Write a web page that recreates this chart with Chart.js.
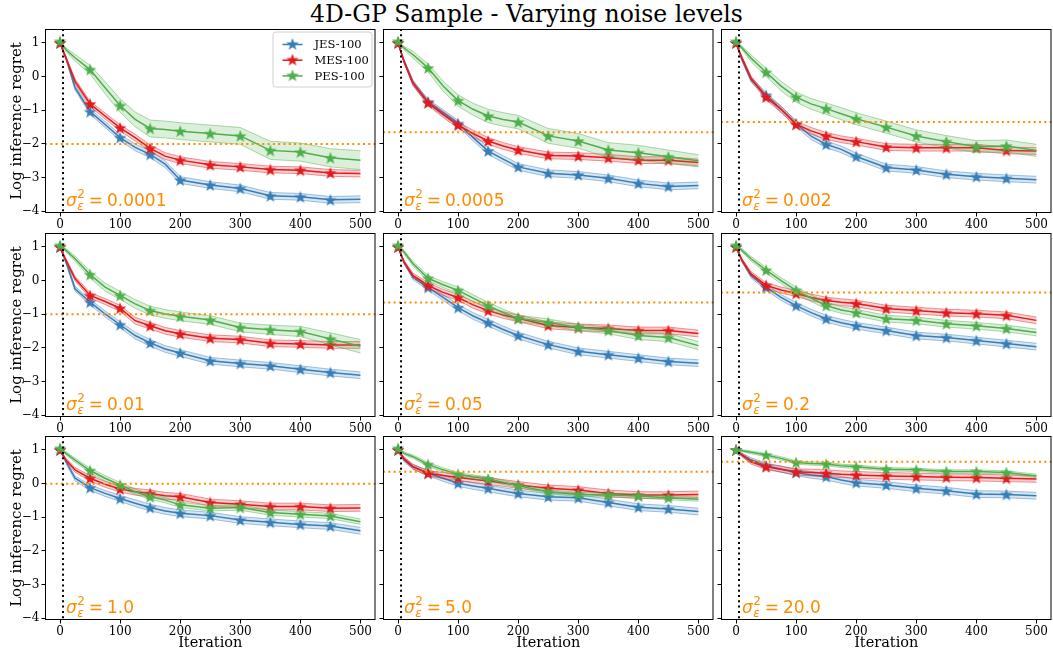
<!DOCTYPE html>
<html>
<head>
<meta charset="utf-8">
<script src="https://cdn.jsdelivr.net/npm/chart.js@4.4.1/dist/chart.umd.min.js"></script>
<style>
  body { margin: 0; background: #fff; }
  #fig { position: relative; width: 1053px; height: 653px; overflow: hidden; background: #fff; }
  #fig canvas { position: absolute; }
  #title { position: absolute; left: 0; top: 0px; width: 1053px; text-align: center;
           font: 23.5px "DejaVu Serif"; color: #000; }
</style>
</head>
<body>
<div id="fig"><div id="title">4D-GP Sample - Varying noise levels</div></div>
<script>
var iters = [0, 10, 25, 50, 75, 100, 125, 150, 175, 200, 250, 300, 350, 400, 450, 500];
var xTicks = [0, 100, 200, 300, 400, 500];
var yTicks = [-4, -3, -2, -1, 0, 1];
var noiseLevels = ["0.0001", "0.0005", "0.002", "0.01", "0.05", "0.2", "1.0", "5.0", "20.0"];
var methods = ["JES-100", "MES-100", "PES-100"];
var initIter = 5;

// log inference regret, one row per noise level
var jes = [
  [1.0, 0.55, -0.33, -1.04, -1.42, -1.81, -2.10, -2.31, -2.60, -3.07, -3.22, -3.32, -3.54, -3.57, -3.66, -3.64],
  [1.0, 0.46, -0.18, -0.75, -1.07, -1.39, -1.81, -2.21, -2.45, -2.68, -2.87, -2.92, -3.02, -3.17, -3.26, -3.23],
  [1.0, 0.50, -0.09, -0.55, -0.97, -1.40, -1.77, -2.01, -2.16, -2.37, -2.70, -2.77, -2.90, -2.97, -3.02, -3.06],
  [1.0, 0.55, -0.24, -0.64, -0.99, -1.31, -1.63, -1.85, -2.03, -2.15, -2.38, -2.46, -2.53, -2.63, -2.73, -2.81],
  [1.0, 0.55, 0.10, -0.20, -0.50, -0.80, -1.05, -1.25, -1.45, -1.63, -1.90, -2.10, -2.20, -2.30, -2.40, -2.45],
  [1.0, 0.60, 0.15, -0.20, -0.50, -0.74, -0.95, -1.13, -1.25, -1.34, -1.48, -1.63, -1.69, -1.78, -1.87, -1.96],
  [1.0, 0.65, 0.16, -0.12, -0.29, -0.44, -0.58, -0.71, -0.81, -0.88, -0.95, -1.08, -1.15, -1.21, -1.26, -1.40],
  [1.0, 0.70, 0.50, 0.31, 0.16, 0.01, -0.07, -0.14, -0.22, -0.29, -0.39, -0.42, -0.56, -0.70, -0.75, -0.83],
  [1.0, 0.85, 0.70, 0.53, 0.43, 0.33, 0.26, 0.21, 0.11, 0.03, -0.04, -0.14, -0.21, -0.31, -0.32, -0.36]
];
var mes = [
  [1.0, 0.55, -0.14, -0.81, -1.17, -1.52, -1.81, -2.13, -2.36, -2.48, -2.62, -2.68, -2.76, -2.78, -2.86, -2.88],
  [1.0, 0.45, -0.20, -0.78, -1.12, -1.44, -1.69, -1.91, -2.06, -2.18, -2.34, -2.36, -2.41, -2.48, -2.48, -2.55],
  [1.0, 0.55, -0.05, -0.61, -0.97, -1.42, -1.61, -1.76, -1.86, -1.93, -2.09, -2.11, -2.11, -2.11, -2.19, -2.21],
  [1.0, 0.60, 0.06, -0.44, -0.62, -0.82, -1.19, -1.34, -1.49, -1.58, -1.71, -1.75, -1.86, -1.88, -1.91, -1.91],
  [1.0, 0.55, 0.15, -0.14, -0.35, -0.50, -0.72, -0.89, -1.02, -1.12, -1.33, -1.39, -1.42, -1.48, -1.48, -1.57],
  [1.0, 0.60, 0.20, -0.14, -0.28, -0.38, -0.50, -0.59, -0.64, -0.68, -0.83, -0.89, -0.95, -0.98, -1.03, -1.18],
  [1.0, 0.70, 0.41, 0.16, -0.02, -0.16, -0.24, -0.29, -0.36, -0.39, -0.56, -0.61, -0.68, -0.68, -0.73, -0.72],
  [1.0, 0.75, 0.50, 0.31, 0.24, 0.18, 0.13, 0.08, 0.02, -0.04, -0.14, -0.19, -0.29, -0.34, -0.34, -0.32],
  [1.0, 0.85, 0.65, 0.50, 0.43, 0.35, 0.33, 0.31, 0.28, 0.26, 0.23, 0.21, 0.19, 0.18, 0.16, 0.14]
];
var pes = [
  [1.05, 0.80, 0.56, 0.21, -0.33, -0.86, -1.27, -1.54, -1.57, -1.62, -1.69, -1.76, -2.19, -2.24, -2.41, -2.48],
  [1.05, 0.85, 0.65, 0.26, -0.28, -0.71, -0.97, -1.17, -1.27, -1.35, -1.76, -1.91, -2.18, -2.26, -2.38, -2.50],
  [1.05, 0.85, 0.55, 0.13, -0.28, -0.61, -0.81, -0.95, -1.10, -1.25, -1.50, -1.76, -1.93, -2.08, -2.06, -2.19],
  [1.05, 0.90, 0.65, 0.18, -0.19, -0.44, -0.69, -0.89, -0.99, -1.06, -1.17, -1.39, -1.46, -1.51, -1.73, -1.95],
  [1.05, 0.85, 0.50, 0.07, -0.12, -0.29, -0.52, -0.74, -0.95, -1.12, -1.24, -1.39, -1.48, -1.63, -1.69, -1.93],
  [1.05, 0.90, 0.65, 0.31, 0.00, -0.29, -0.52, -0.74, -0.87, -0.95, -1.13, -1.18, -1.28, -1.34, -1.42, -1.54],
  [1.05, 0.90, 0.70, 0.39, 0.16, -0.04, -0.24, -0.39, -0.49, -0.63, -0.73, -0.71, -0.86, -0.91, -0.96, -1.13],
  [1.05, 0.90, 0.80, 0.57, 0.41, 0.28, 0.20, 0.14, 0.04, -0.06, -0.24, -0.32, -0.34, -0.37, -0.42, -0.46],
  [1.00, 0.98, 0.93, 0.85, 0.75, 0.63, 0.60, 0.58, 0.53, 0.50, 0.43, 0.41, 0.36, 0.36, 0.33, 0.23]
];
// half width of the shaded bands
var jesSpread = [0, 0.05, 0.07, 0.08, 0.09, 0.09, 0.1, 0.1, 0.1, 0.1, 0.1, 0.1, 0.1, 0.1, 0.1, 0.1];
var mesSpread = [0, 0.05, 0.07, 0.08, 0.09, 0.09, 0.1, 0.1, 0.1, 0.1, 0.1, 0.1, 0.1, 0.1, 0.1, 0.1];
var pesSpread = [
  [0, 0.05, 0.10, 0.13, 0.18, 0.20, 0.22, 0.25, 0.25, 0.25, 0.25, 0.25, 0.27, 0.27, 0.27, 0.28],
  [0, 0.05, 0.10, 0.12, 0.15, 0.17, 0.18, 0.20, 0.20, 0.20, 0.22, 0.22, 0.22, 0.22, 0.20, 0.18],
  [0, 0.05, 0.10, 0.12, 0.14, 0.15, 0.16, 0.17, 0.18, 0.18, 0.18, 0.18, 0.18, 0.18, 0.18, 0.18],
  [0, 0.05, 0.08, 0.10, 0.12, 0.12, 0.13, 0.13, 0.13, 0.13, 0.13, 0.13, 0.14, 0.15, 0.18, 0.20],
  [0, 0.05, 0.07, 0.08, 0.09, 0.10, 0.10, 0.10, 0.10, 0.10, 0.10, 0.10, 0.10, 0.12, 0.12, 0.12],
  [0, 0.05, 0.07, 0.08, 0.09, 0.10, 0.10, 0.10, 0.10, 0.10, 0.10, 0.10, 0.10, 0.10, 0.10, 0.10],
  [0, 0.05, 0.06, 0.07, 0.08, 0.08, 0.08, 0.08, 0.08, 0.08, 0.08, 0.08, 0.08, 0.08, 0.08, 0.08],
  [0, 0.04, 0.05, 0.06, 0.06, 0.06, 0.06, 0.06, 0.06, 0.06, 0.06, 0.06, 0.06, 0.06, 0.06, 0.06],
  [0, 0.03, 0.04, 0.05, 0.05, 0.05, 0.05, 0.05, 0.05, 0.05, 0.05, 0.05, 0.05, 0.05, 0.05, 0.05]
];

var colors = ["#377eb8", "#e41a1c", "#4daf4a"];
var bandFill = ["rgba(55,126,184,0.2)", "rgba(228,26,28,0.2)", "rgba(77,175,74,0.2)"];
var bandEdge = ["rgba(55,126,184,0.45)", "rgba(228,26,28,0.45)", "rgba(77,175,74,0.45)"];
var orange = "#ff8c00";

var colLeft = [45, 383, 721], rowTop = [29, 233, 436];
var plotW = 331, plotH = 184, axisW = 45;

Chart.defaults.font.family = "DejaVu Serif";
Chart.defaults.color = "#000";

function makeStar(color) {
  var c = document.createElement("canvas");
  c.width = 14; c.height = 14;
  var g = c.getContext("2d");
  g.beginPath();
  for (var k = 0; k < 10; k++) {
    var r = k % 2 ? 2.7 : 6.6;
    var a = -Math.PI / 2 + k * Math.PI / 5;
    g.lineTo(7 + r * Math.cos(a), 7.6 + r * Math.sin(a));
  }
  g.closePath();
  g.fillStyle = color;
  g.fill();
  return c;
}
var stars = colors.map(makeStar);

function markerRadius(ctx) {
  var x = iters[ctx.dataIndex];
  return (x % 50 === 0 && x < 500) ? 5 : 0;
}

function toPoints(vals, spread, sign) {
  return iters.map(function (x, i) {
    return { x: x, y: spread ? vals[i] + sign * spread[i] : vals[i] };
  });
}

function buildDatasets(p) {
  var series = [jes[p], mes[p], pes[p]];
  var spreads = [jesSpread, mesSpread, pesSpread[p]];
  var out = [];
  // last method first so that it ends up drawn on top
  for (var m = 2; m >= 0; m--) {
    out.push({ data: toPoints(series[m]), borderColor: colors[m], borderWidth: 1.5,
      pointStyle: stars[m], pointRadius: markerRadius, fill: false });
    out.push({ data: toPoints(series[m], spreads[m], 1), borderColor: bandEdge[m], borderWidth: 1,
      pointRadius: 0, fill: "+1", backgroundColor: bandFill[m] });
    out.push({ data: toPoints(series[m], spreads[m], -1), borderColor: bandEdge[m], borderWidth: 1,
      pointRadius: 0, fill: false });
  }
  return out;
}

function dotted(ctx, x1, y1, x2, y2, color) {
  ctx.save();
  ctx.strokeStyle = color;
  ctx.lineWidth = 2;
  ctx.setLineDash([2, 3.3]);
  ctx.beginPath();
  ctx.moveTo(x1, y1);
  ctx.lineTo(x2, y2);
  ctx.stroke();
  ctx.restore();
}

function panelPlugin(p) {
  return {
    id: "panel" + p,
    afterDatasetsDraw: function (chart) {
      var ctx = chart.ctx, a = chart.chartArea;
      var xs = chart.scales.x, ys = chart.scales.y;
      var lvl = 0.5 * Math.log10(parseFloat(noiseLevels[p]));
      var py = ys.getPixelForValue(lvl);
      dotted(ctx, a.left, py, a.right, py, orange);
      var px = xs.getPixelForValue(initIter);
      dotted(ctx, px, a.top, px, a.bottom, "#000");

      // noise label, mathtext style
      var x0 = a.left + 21, base = a.bottom - 7;
      ctx.save();
      ctx.fillStyle = orange;
      ctx.textBaseline = "alphabetic";
      ctx.font = "italic 17px 'DejaVu Sans'";
      ctx.fillText("\u03c3", x0, base);
      var w = ctx.measureText("\u03c3").width;
      ctx.font = "12px 'DejaVu Sans'";
      ctx.fillText("2", x0 + w + 0.5, base - 8);
      ctx.font = "italic 12px 'DejaVu Sans'";
      ctx.fillText("\u03b5", x0 + w + 0.5, base + 4);
      var w2 = Math.max(ctx.measureText("\u03b5").width, 7);
      ctx.font = "17px 'DejaVu Sans'";
      var xe = x0 + w + w2 + 5;
      ctx.fillText("=", xe, base);
      ctx.fillText(noiseLevels[p], xe + ctx.measureText("=").width + 4, base);
      ctx.restore();

      // frame
      ctx.save();
      ctx.strokeStyle = "#000";
      ctx.lineWidth = 1;
      ctx.strokeRect(a.left + 0.5, a.top + 0.5, a.right - a.left - 1, a.bottom - a.top - 1);
      ctx.restore();

      if (p === 0) drawLegend(ctx, a);
    }
  };
}

function drawLegend(ctx, a) {
  var bx = a.right - 103, by = a.top + 2.5, bw = 99, bh = 55;
  ctx.save();
  ctx.beginPath();
  ctx.roundRect(bx + 0.5, by + 0.5, bw, bh, 3);
  ctx.fillStyle = "rgba(255,255,255,0.85)";
  ctx.fill();
  ctx.strokeStyle = "#d0d0d0";
  ctx.lineWidth = 1;
  ctx.stroke();
  ctx.font = "11.5px 'DejaVu Serif'";
  ctx.textBaseline = "middle";
  for (var m = 0; m < 3; m++) {
    var y = by + 13 + m * 15.7;
    ctx.strokeStyle = colors[m];
    ctx.lineWidth = 1.5;
    ctx.beginPath();
    ctx.moveTo(bx + 10, y);
    ctx.lineTo(bx + 30, y);
    ctx.stroke();
    ctx.drawImage(stars[m], bx + 20 - 7, y - 7.6);
    ctx.fillStyle = "#000";
    ctx.fillText(methods[m], bx + 42, y + 1);
  }
  ctx.restore();
}

function yLabel(v) {
  return v < 0 ? "\u2212" + Math.abs(v) : String(v);
}

var fig = document.getElementById("fig");
for (var p = 0; p < 9; p++) {
  var r = Math.floor(p / 3), c = p % 3;
  var h = 10 + plotH + (r === 2 ? 33 : 20);
  var w = axisW + plotW + 6;
  var cv = document.createElement("canvas");
  cv.width = w; cv.height = h;
  cv.style.left = (colLeft[c] - axisW) + "px";
  cv.style.top = (rowTop[r] - 10) + "px";
  cv.style.width = w + "px";
  cv.style.height = h + "px";
  fig.appendChild(cv);

  (function (p, r, c) {
    new Chart(cv, {
      type: "line",
      data: { datasets: buildDatasets(p) },
      options: {
        responsive: false,
        maintainAspectRatio: false,
        animation: false,
        events: [],
        layout: { padding: { top: 10, right: 6, left: 0, bottom: 0 } },
        plugins: { legend: { display: false }, tooltip: { enabled: false } },
        elements: { line: { tension: 0 } },
        scales: {
          x: {
            type: "linear", min: -25, max: 525,
            afterBuildTicks: function (s) { s.ticks = xTicks.map(function (v) { return { value: v }; }); },
            afterFit: function (s) { s.height = r === 2 ? 33 : 20; },
            grid: { drawOnChartArea: false, drawTicks: true, tickLength: 3.5, tickColor: "#000" },
            border: { display: false },
            ticks: { font: { size: 12 }, color: "#000", padding: 1, maxRotation: 0, autoSkip: false },
            title: { display: r === 2, text: "Iteration", font: { size: 14.5 }, color: "#000",
                     padding: { top: 0, bottom: 1 } }
          },
          y: {
            type: "linear", min: -4.05, max: 1.415,
            afterBuildTicks: function (s) { s.ticks = yTicks.map(function (v) { return { value: v }; }); },
            afterFit: function (s) { s.width = axisW; },
            grid: { drawOnChartArea: false, drawTicks: true, tickLength: 3.5, tickColor: "#000" },
            border: { display: false },
            ticks: { font: { size: 12 }, color: "#000", padding: 2, autoSkip: false,
                     callback: function (v) { return c === 0 ? yLabel(v) : ""; } },
            title: { display: c === 0, text: "Log inference regret", font: { size: 15 }, color: "#000",
                     padding: { top: 8, bottom: 0 } }
          }
        }
      },
      plugins: [panelPlugin(p)]
    });
  })(p, r, c);
}
</script>
</body>
</html>
